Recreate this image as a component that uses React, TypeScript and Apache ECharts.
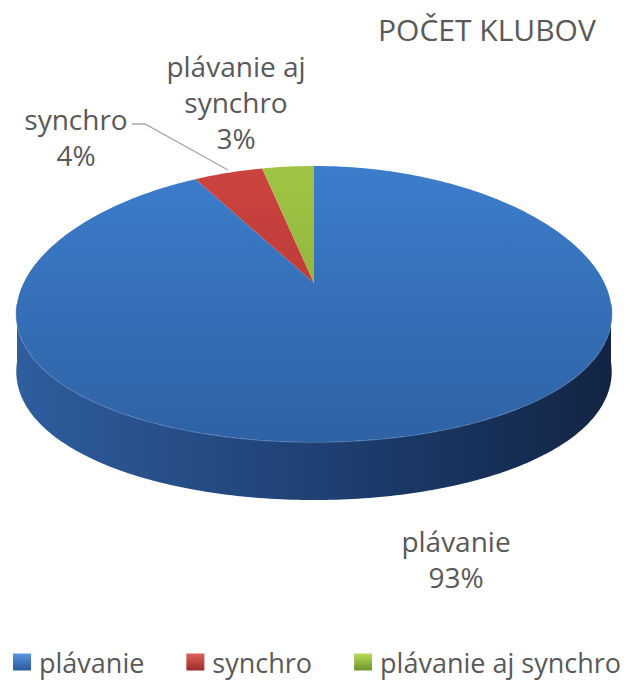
import React, { useEffect, useRef } from "react";
import * as echarts from "echarts";

const categories = ["plávanie", "synchro", "plávanie aj synchro"];
const values = [93, 4, 3];
const labelNames = ["plávanie", "synchro", "plávanie aj\nsynchro"];
const titleText = "POČET KLUBOV";

const FONT = "'Open Sans', 'Noto Sans', sans-serif";
const TEXT = "#595959";

const geo = { cx: 314, cy: 304, rx: 297, ry: 138, depth: 58, apexDy: -21, persp: 0.07 };
const labelPos: number[][] = [
  [456, 559],
  [76, 137],
  [236, 102],
];
const topColors = [
  ["#3c7dcc", "#2f62a4"],
  ["#cc4440", "#ab312c"],
  ["#a0c444", "#80a534"],
];
const sideColors = [
  ["#2f5d9e", "#1f4174", "#122444"],
  ["#9c2c28", "#7a211e", "#561512"],
  ["#769a30", "#5c7a24", "#405618"],
];
const legendColors = [
  ["#5a97e0", "#2b5a9a"],
  ["#e0605a", "#9a2b28"],
  ["#b8dc5a", "#6e9428"],
];

const TAU = Math.PI * 2;
const total = values.reduce((a, b) => a + b, 0);
const starts: number[] = [];
{
  let acc = 0;
  for (const v of values) {
    starts.push((acc / total) * TAU);
    acc += v;
  }
}

function pt(t: number, dy = 0): number[] {
  const f = 1 - geo.persp * Math.cos(t);
  return [geo.cx + geo.rx * Math.sin(t) * f, geo.cy - geo.ry * Math.cos(t) + dy];
}

function arc(a: number, b: number, dy = 0): number[][] {
  const n = Math.max(2, Math.ceil(((b - a) / TAU) * 360));
  const out: number[][] = [];
  for (let k = 0; k <= n; k++) out.push(pt(a + ((b - a) * k) / n, dy));
  return out;
}

function makeRender(i: number) {
  return (_params: any, api: any) => {
    const v = api.value(0);
    const a0 = starts[i];
    const a1 = a0 + (v / total) * TAU;
    const children: any[] = [];
    const s0 = Math.max(a0, Math.PI / 2);
    const s1 = Math.min(a1, (Math.PI * 3) / 2);
    if (s1 > s0) {
      const top = arc(s0, s1);
      const bot = arc(s0, s1, geo.depth).reverse();
      children.push({
        type: "polygon",
        shape: { points: top.concat(bot) },
        style: {
          fill: new echarts.graphic.LinearGradient(
            geo.cx - geo.rx, 0, geo.cx + geo.rx, 0,
            [
              { offset: 0, color: sideColors[i][0] },
              { offset: 0.5, color: sideColors[i][1] },
              { offset: 1, color: sideColors[i][2] },
            ],
            true
          ),
        },
      });
      children.push({
        type: "polyline",
        shape: { points: top },
        style: { stroke: "rgba(110,155,215,0.55)", lineWidth: 1.5, fill: "none" },
      });
    }
    const pts = [[geo.cx, geo.cy + geo.apexDy]].concat(arc(a0, a1));
    children.push({
      type: "polygon",
      shape: { points: pts },
      style: {
        fill: new echarts.graphic.LinearGradient(
          0, geo.cy - geo.ry, 0, geo.cy + geo.ry,
          [
            { offset: 0, color: topColors[i][0] },
            { offset: 1, color: topColors[i][1] },
          ],
          true
        ),
      },
    });
    const pct = Math.round((v / total) * 100);
    children.push({
      type: "text",
      x: labelPos[i][0],
      y: labelPos[i][1],
      style: {
        text: `${labelNames[i]}\n${pct}%`,
        fontSize: 28,
        fontFamily: FONT,
        fill: TEXT,
        align: "center",
        verticalAlign: "middle",
        lineHeight: 36,
      },
    });
    if (i === 1) {
      children.push({
        type: "polyline",
        shape: { points: [[132, 124], [145, 124], [228, 170]] },
        style: { stroke: "#a6a6a6", lineWidth: 1.3, fill: "none" },
      });
    }
    return { type: "group", children };
  };
}

export default function App() {
  const ref = useRef<HTMLDivElement>(null);
  useEffect(() => {
    if (!ref.current) return;
    const chart = echarts.init(ref.current, undefined, { renderer: "svg" });
    chart.setOption({
      animation: false,
      backgroundColor: "#ffffff",
      title: {
        text: titleText,
        left: 373,
        top: 9,
        textStyle: { fontFamily: FONT, fontSize: 30, fontWeight: "normal", color: TEXT },
      },
      legend: {
        left: 8,
        top: 645,
        width: 625,
        padding: [3, 0, 0, 5],
        icon: "rect",
        itemWidth: 18,
        itemHeight: 17,
        itemGap: 42,
        textStyle: {
          fontFamily: FONT,
          fontSize: 27,
          lineHeight: 28,
          color: TEXT,
          padding: [0, 0, 0, 3],
        },
        data: categories.map((c, i) => ({
          name: c,
          itemStyle: {
            color: new echarts.graphic.LinearGradient(0, 0, 0, 1, [
              { offset: 0, color: legendColors[i][0] },
              { offset: 1, color: legendColors[i][1] },
            ]),
          },
        })),
      },
      series: categories.map((c, i) => ({
        type: "custom",
        name: c,
        coordinateSystem: "none",
        itemStyle: { color: topColors[i][0] },
        data: [[values[i]]],
        renderItem: makeRender(i),
      })),
    });
    return () => chart.dispose();
  }, []);
  return (
    <div
      ref={ref}
      style={{ position: "fixed", left: 0, top: 0, width: 627, height: 680 }}
    />
  );
}
